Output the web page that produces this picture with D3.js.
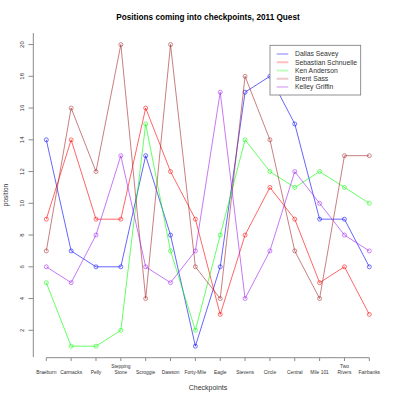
<!DOCTYPE html>
<html>
<head>
<meta charset="utf-8">
<script src="https://cdn.jsdelivr.net/npm/d3@7"></script>
<style>
  body { margin: 0; background: #fff; }
  svg { display: block; font-family: "Liberation Sans", Arial, sans-serif; }
</style>
</head>
<body>
<svg id="chart" width="400" height="400"></svg>
<script>
const checkpoints = ["Braeburn", "Carmacks", "Pelly", "Stepping Stone", "Scroggie", "Dawson", "Forty-Mile", "Eagle", "Stevens", "Circle", "Central", "Mile 101", "Two Rivers", "Fairbanks"];
const mushers = ["Dallas Seavey", "Sebastian Schnuelle", "Ken Anderson", "Brent Sass", "Kelley Griffin"];
const dallasSeavey      = [14, 7, 6, 6, 13, 8, 1, 6, 17, 18, 15, 9, 9, 6];
const sebastianSchnuelle = [9, 14, 9, 9, 16, 12, 9, 3, 8, 11, 9, 5, 6, 3];
const kenAnderson       = [5, 1, 1, 2, 15, 7, 2, 8, 14, 12, 11, 12, 11, 10];
const brentSass         = [7, 16, 12, 20, 4, 20, 6, 4, 18, 14, 7, 4, 13, 13];
const kelleyGriffin     = [6, 5, 8, 13, 6, 5, 7, 17, 4, 7, 12, 10, 8, 7];
const yTicks = [2, 4, 6, 8, 10, 12, 14, 16, 18, 20];
const seriesValues = [dallasSeavey, sebastianSchnuelle, kenAnderson, brentSass, kelleyGriffin];
const colors = ["0,0,255", "255,0,0", "0,255,0", "165,42,42", "160,32,240"];

const svg = d3.select("#chart");
const x = d3.scalePoint().domain(checkpoints).range([46.3, 369.3]);
const y = d3.scaleLinear().domain([2, 20]).range([330.3, 44.55]);

// title
svg.append("text").attr("x", 208).attr("y", 20).attr("text-anchor", "middle")
  .attr("font-size", 8.2).attr("font-weight", "bold").attr("fill", "#000")
  .text("Positions coming into checkpoints, 2011 Quest");

// y axis
const axisColor = "#8a8a8a";
svg.append("line").attr("x1", 33.3).attr("x2", 33.3).attr("y1", 33).attr("y2", 357)
  .attr("stroke", axisColor).attr("stroke-width", 1);
const yg = svg.append("g");
yTicks.forEach(t => {
  yg.append("line").attr("x1", 28.5).attr("x2", 33.3).attr("y1", y(t)).attr("y2", y(t))
    .attr("stroke", axisColor);
  yg.append("text").attr("transform", `translate(24,${y(t)}) rotate(-90)`)
    .attr("text-anchor", "middle").attr("font-size", 6).attr("fill", "#333").text(t);
});
svg.append("text").attr("transform", "translate(8,195) rotate(-90)")
  .attr("text-anchor", "middle").attr("font-size", 6.5).attr("fill", "#333").text("position");

// x axis
svg.append("line").attr("x1", x(checkpoints[0])).attr("x2", x(checkpoints[checkpoints.length - 1]))
  .attr("y1", 357.7).attr("y2", 357.7).attr("stroke", axisColor);
checkpoints.forEach(c => {
  svg.append("line").attr("x1", x(c)).attr("x2", x(c)).attr("y1", 357.7).attr("y2", 361)
    .attr("stroke", axisColor);
  const parts = c === "Stepping Stone" ? ["Stepping", "Stone"] : c === "Two Rivers" ? ["Two", "Rivers"] : [c];
  parts.forEach((p, i) => {
    svg.append("text").attr("x", x(c)).attr("y", 373.5 - (parts.length - 1 - i) * 6)
      .attr("text-anchor", "middle").attr("font-size", 4.9).attr("fill", "#333").text(p);
  });
});
svg.append("text").attr("x", 208).attr("y", 390).attr("text-anchor", "middle")
  .attr("font-size", 7).attr("fill", "#333").text("Checkpoints");

// series
const line = d3.line().x((d, i) => x(checkpoints[i])).y(d => y(d));
seriesValues.forEach((vals, k) => {
  const col = `rgba(${colors[k]},0.6)`;
  svg.append("path").datum(vals).attr("d", line).attr("fill", "none")
    .attr("stroke", col).attr("stroke-width", 1);
  svg.append("g").selectAll("circle").data(vals).join("circle")
    .attr("cx", (d, i) => x(checkpoints[i])).attr("cy", d => y(d)).attr("r", 2)
    .attr("fill", "none").attr("stroke", col).attr("stroke-width", 0.9);
});

// legend
svg.append("rect").attr("x", 270).attr("y", 45.3).attr("width", 90.7).attr("height", 49.7)
  .attr("fill", "#fff").attr("stroke", "#777").attr("stroke-width", 0.8);
mushers.forEach((m, k) => {
  const ly = 54 + k * 8.25;
  svg.append("line").attr("x1", 276.7).attr("x2", 288.3).attr("y1", ly).attr("y2", ly)
    .attr("stroke", `rgba(${colors[k]},0.25)`).attr("stroke-width", 2);
  svg.append("text").attr("x", 295).attr("y", ly + 2.3).attr("font-size", 6.8)
    .attr("fill", "#333").text(m);
});
</script>
</body>
</html>
